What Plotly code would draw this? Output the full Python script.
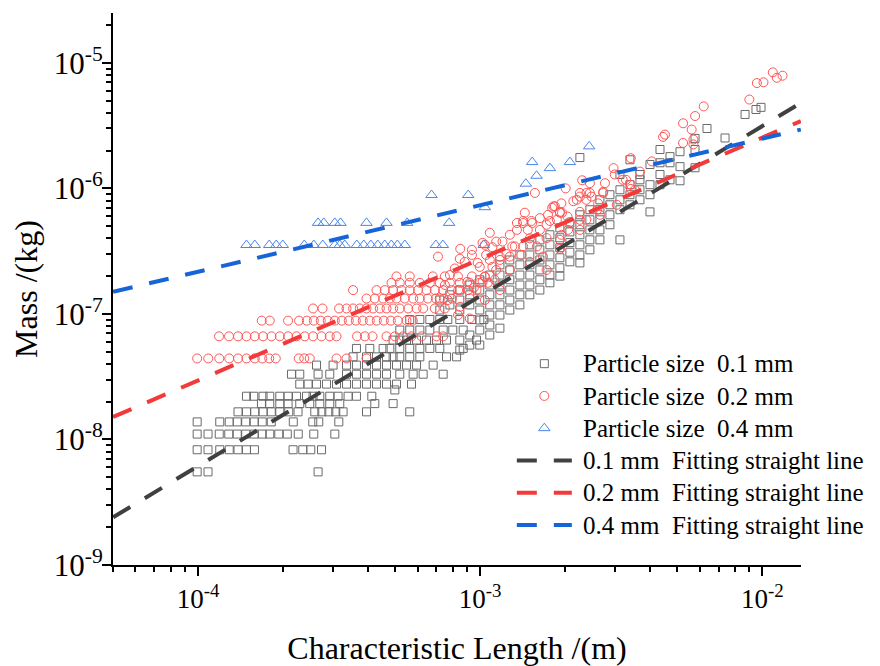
import plotly.graph_objects as go

# ---------------- Particle size 0.1 mm ----------------
# quantized mass levels (kg) with the characteristic lengths (m) found on each level
p01_lv_mass = [5.52e-9, 8.28e-9, 1.104e-8, 1.38e-8, 1.66e-8, 1.93e-8, 2.21e-8, 2.48e-8,
               2.76e-8, 3.31e-8, 3.91e-8, 4.55e-8, 5.31e-8, 6.19e-8, 7.44e-8, 9.02e-8]
p01_lv_len = [
    [0.993e-4, 1.085e-4, 2.664e-4],
    [0.993e-4, 1.085e-4, 1.194e-4, 1.29e-4, 1.386e-4, 1.485e-4, 1.585e-4, 2.172e-4, 2.351e-4, 2.51e-4, 2.74e-4],
    [0.993e-4, 1.085e-4, 1.189e-4, 1.285e-4, 1.377e-4, 1.476e-4, 1.582e-4, 1.689e-4, 1.796e-4, 1.933e-4,
     2.072e-4, 2.266e-4, 2.572e-4, 3.054e-4],
    [0.993e-4, 1.194e-4, 1.29e-4, 1.377e-4, 1.476e-4, 1.582e-4, 1.689e-4, 1.818e-4, 2.176e-4, 2.551e-4,
     2.679e-4, 3.155e-4],
    [1.386e-4, 1.485e-4, 1.589e-4, 1.7e-4, 1.818e-4, 1.949e-4, 2.097e-4, 2.262e-4, 2.593e-4, 2.746e-4,
     2.908e-4, 3.078e-4, 3.267e-4, 3.955e-4, 5.63e-4],
    [1.678e-4, 1.796e-4, 1.949e-4, 2.085e-4, 2.294e-4, 2.489e-4, 2.702e-4, 2.931e-4, 3.18e-4, 4.232e-4, 4.915e-4],
    [1.485e-4, 1.576e-4, 1.7e-4, 1.796e-4, 1.949e-4, 2.085e-4, 2.234e-4, 2.424e-4, 2.557e-4, 2.702e-4,
     2.931e-4, 3.136e-4, 3.403e-4, 3.644e-4, 4.13e-4],
    [4.984e-4],
    [2.294e-4, 2.455e-4, 2.63e-4, 2.853e-4, 3.097e-4, 3.36e-4, 3.644e-4, 3.955e-4, 4.292e-4, 4.657e-4,
     5.052e-4, 5.71e-4],
    [2.144e-4, 2.294e-4, 2.664e-4, 2.931e-4, 3.36e-4, 3.644e-4, 3.955e-4, 4.292e-4, 4.657e-4, 5.19e-4,
     5.788e-4, 6.28e-4, 7.395e-4],
    [2.63e-4, 3.011e-4, 3.36e-4, 3.644e-4, 3.955e-4, 4.292e-4, 4.657e-4, 5.052e-4, 5.483e-4, 5.951e-4, 6.815e-4],
    [3.545e-4, 3.955e-4, 4.292e-4, 4.657e-4, 4.915e-4, 5.19e-4, 5.63e-4, 6.112e-4, 7.6e-4, 8.25e-4],
    [3.644e-4, 4.063e-4, 4.53e-4, 4.785e-4, 5.19e-4, 5.63e-4, 6.112e-4, 6.632e-4, 7.195e-4, 8.708e-4],
    [4.915e-4, 5.19e-4, 5.483e-4, 5.951e-4, 6.456e-4, 7.005e-4, 7.6e-4, 9.71e-4],
    [5.19e-4, 5.63e-4, 6.112e-4, 6.632e-4, 7.395e-4, 8.0e-4, 8.708e-4],
    [5.63e-4, 6.112e-4, 6.632e-4, 7.195e-4, 7.68e-4, 8.47e-4, 9.35e-4, 1.031e-3],
]
# dense part of the cloud: length (m) and the masses (kg) read at that length
p01_col_len = [7.195e-4, 7.81e-4, 8.47e-4, 9.19e-4, 9.97e-4, 1.082e-3, 1.175e-3, 1.274e-3, 1.383e-3,
               1.50e-3, 1.628e-3, 1.767e-3, 1.917e-3, 2.08e-3, 2.257e-3, 2.449e-3, 2.658e-3, 2.884e-3,
               3.13e-3, 3.396e-3, 3.685e-3, 3.999e-3, 4.34e-3, 4.709e-3, 5.11e-3, 5.776e-3, 6.37e-3,
               7.38e-3, 8.69e-3, 9.5e-3, 9.9e-3]
p01_col_mass = [
    [1.29e-7, 1.074e-7],
    [1.42e-7, 1.18e-7],
    [1.55e-7, 1.29e-7, 1.074e-7, 6.19e-8, 5.15e-8],
    [1.70e-7, 1.42e-7, 1.18e-7, 6.79e-8, 5.65e-8],
    [1.87e-7, 1.55e-7, 1.29e-7, 1.074e-7, 8.94e-8, 7.44e-8, 5.65e-8],
    [2.04e-7, 1.70e-7, 1.42e-7, 1.18e-7, 9.8e-8, 8.16e-8, 6.79e-8],
    [2.46e-7, 2.04e-7, 1.70e-7, 1.42e-7, 1.18e-7, 9.8e-8, 7.7e-8],
    [2.69e-7, 2.24e-7, 1.87e-7, 1.55e-7, 1.29e-7, 1.074e-7],
    [2.95e-7, 2.46e-7, 2.04e-7, 1.70e-7, 1.42e-7, 1.18e-7],
    [3.55e-7, 2.95e-7, 2.46e-7, 2.04e-7, 1.70e-7, 1.42e-7],
    [3.89e-7, 3.24e-7, 2.69e-7, 2.24e-7, 1.87e-7, 1.55e-7],
    [4.27e-7, 3.55e-7, 2.95e-7, 2.46e-7, 2.04e-7, 1.77e-7],
    [4.85e-7, 4.04e-7, 3.37e-7, 2.80e-7, 2.33e-7, 2.0e-7],
    [5.3e-7, 4.5e-7, 3.7e-7, 3.1e-7, 2.6e-7],
    [1.76e-6, 6.16e-7, 5.13e-7, 4.27e-7, 3.55e-7, 2.95e-7, 2.55e-7],
    [6.76e-7, 5.62e-7, 4.67e-7, 3.89e-7, 3.24e-7],
    [8.11e-7, 6.76e-7, 5.62e-7, 4.67e-7, 3.89e-7],
    [8.9e-7, 7.4e-7, 6.16e-7, 5.13e-7],
    [1.29e-6, 9.75e-7, 8.11e-7, 6.76e-7, 3.89e-7],
    [1.69e-6, 1.07e-6, 8.9e-7, 7.4e-7],
    [1.29e-6, 1.17e-6, 9.75e-7, 8.11e-7],
    [1.55e-6, 1.07e-6, 8.9e-7, 6.5e-7],
    [2.04e-6, 1.6e-6, 1.29e-6, 1.07e-6],
    [1.79e-6, 1.6e-6, 1.17e-6],
    [1.96e-6, 1.49e-6, 1.15e-6],
    [2.50e-6, 2.04e-6, 1.46e-6],
    [3.0e-6],
    [2.52e-6],
    [3.88e-6],
    [4.25e-6],
    [4.42e-6],
]

# ---------------- Particle size 0.2 mm ----------------
p02_lv_mass = [4.42e-8, 6.63e-8, 8.84e-8, 1.105e-7, 1.326e-7, 1.547e-7, 1.77e-7, 1.99e-7]
p02_lv_len = [
    [0.993e-4, 1.087e-4, 1.189e-4, 1.29e-4, 1.386e-4, 1.485e-4, 1.589e-4, 1.689e-4, 1.788e-4, 1.886e-4,
     2.276e-4, 2.38e-4, 2.489e-4, 3.097e-4, 3.36e-4, 3.955e-4],
    [1.187e-4, 1.288e-4, 1.386e-4, 1.485e-4, 1.589e-4, 1.7e-4, 1.821e-4, 1.949e-4, 2.085e-4, 2.234e-4,
     2.389e-4, 2.557e-4, 2.74e-4, 2.931e-4, 3.097e-4, 3.663e-4, 3.901e-4, 4.154e-4, 4.657e-4, 4.984e-4,
     5.334e-4, 5.71e-4, 6.198e-4, 7.005e-4, 7.395e-4],
    [1.682e-4, 1.796e-4, 2.085e-4, 2.281e-4, 2.43e-4, 2.572e-4, 2.723e-4, 2.884e-4, 3.054e-4, 3.233e-4,
     3.423e-4, 3.625e-4, 3.837e-4, 4.063e-4, 4.301e-4, 4.555e-4, 4.824e-4, 5.107e-4, 5.483e-4, 5.772e-4],
    [2.557e-4, 2.762e-4, 3.162e-4, 3.36e-4, 3.545e-4, 3.744e-4, 3.955e-4, 4.174e-4, 4.409e-4, 4.657e-4,
     4.915e-4, 5.19e-4, 5.556e-4, 5.951e-4, 6.28e-4, 6.908e-4, 7.497e-4],
    [3.955e-4, 4.232e-4, 4.53e-4, 4.785e-4, 5.052e-4, 5.408e-4, 5.788e-4, 6.112e-4, 6.525e-4, 6.965e-4,
     7.436e-4, 7.937e-4],
    [3.545e-4, 4.292e-4, 4.592e-4, 4.915e-4, 5.265e-4, 5.63e-4, 6.029e-4, 6.456e-4, 6.908e-4, 7.395e-4,
     7.918e-4, 8.47e-4, 9.071e-4, 9.71e-4],
    [4.852e-4, 5.19e-4, 5.63e-4, 6.112e-4, 6.632e-4, 7.195e-4, 7.81e-4, 8.47e-4, 9.19e-4, 9.97e-4, 1.065e-3],
    [5.052e-4, 5.63e-4, 6.795e-4, 7.497e-4, 8.34e-4, 9.35e-4, 1.039e-3],
]
p02_pts_len = [7.09e-4, 7.195e-4, 8.36e-4, 9.0e-4, 9.8e-4, 8.5e-4, 9.19e-4, 8.5e-4, 9.5e-4, 1.039e-3,
               1.105e-3, 1.175e-3, 1.082e-3, 1.02e-3, 1.14e-3, 1.274e-3, 1.35e-3, 1.42e-3, 1.475e-3, 1.328e-3,
               1.082e-3, 1.24e-3, 1.4e-3, 1.59e-3, 1.72e-3, 1.72e-3, 1.87e-3, 1.917e-3, 1.8e-3, 2.14e-3,
               2.257e-3, 2.38e-3, 2.48e-3, 2.73e-3, 2.04e-3, 2.257e-3, 2.38e-3, 2.6e-3, 1.67e-3, 1.917e-3,
               1.72e-3, 1.917e-3, 2.05e-3, 2.257e-3, 1.42e-3, 1.52e-3, 1.35e-3, 1.5e-3, 1.3e-3, 1.2e-3,
               1.105e-3, 1.05e-3, 1.175e-3, 1.274e-3, 9.97e-4, 1.02e-3, 1.14e-3, 1.42e-3, 1.628e-3, 1.767e-3,
               1.84e-3, 1.74e-3, 1.917e-3, 1.94e-3, 2.2e-3, 2.257e-3, 2.449e-3, 2.38e-3, 2.62e-3, 2.73e-3,
               1.95e-3, 2.08e-3, 1.94e-3, 2.257e-3, 2.97e-3, 3.42e-3, 3.2e-3, 3.42e-3, 3.537e-3, 2.3e-3,
               1.563e-3, 2.01e-3, 4.06e-3, 4.45e-3, 4.52e-3, 5.24e-3, 5.62e-3, 5.78e-3, 6.2e-3, 5.24e-3,
               5.7e-3, 5.7e-3, 3.29e-3, 3.42e-3, 9.0e-3, 9.57e-3, 1.01e-2, 1.09e-2, 1.126e-2, 1.18e-2,
               7.5e-4, 7.81e-4, 8.13e-4, 8.82e-4, 9.35e-4, 7.68e-4, 8.35e-4, 9.19e-4, 1.039e-3, 1.175e-3,
               1.127e-3, 1.274e-3, 1.5e-3, 1.628e-3, 1.44e-3, 2.449e-3, 2.77e-3, 3.0e-3, 2.658e-3, 3.05e-3,
               3.685e-3, 9.35e-4, 8.47e-4, 1.039e-3, 1.82e-3, 1.53e-3]
p02_pts_mass = [2.86e-7, 1.33e-7, 1.55e-7, 1.8e-7, 2.55e-7, 3.3e-7, 1.33e-7, 1.14e-7, 1.62e-7, 1.97e-7,
                2.37e-7, 2.86e-7, 4.43e-7, 3.68e-7, 3.77e-7, 4.27e-7, 5.3e-7, 5.3e-7, 4.67e-7, 3.45e-7,
                2.69e-7, 3.0e-7, 2.95e-7, 3.45e-7, 4.02e-7, 5.13e-7, 5.62e-7, 6.5e-7, 7.0e-7, 7.9e-7,
                8.6e-7, 9.2e-7, 8.6e-7, 9.2e-7, 5.96e-7, 5.62e-7, 5.62e-7, 6.76e-7, 2.86e-7, 3.3e-7,
                2.24e-7, 3.89e-7, 4.67e-7, 4.67e-7, 5.5e-7, 5.5e-7, 4.67e-7, 4.0e-7, 3.45e-7, 3.77e-7,
                3.4e-7, 2.95e-7, 2.69e-7, 2.86e-7, 2.37e-7, 1.8e-7, 2.24e-7, 3.45e-7, 4.67e-7, 5.5e-7,
                7.2e-7, 6.16e-7, 6.4e-7, 7.6e-7, 8.11e-7, 9.2e-7, 9.2e-7, 8.11e-7, 7.6e-7, 9.4e-7,
                6.4e-7, 5.4e-7, 4.27e-7, 6.5e-7, 1.45e-6, 1.74e-6, 1.17e-6, 1.07e-6, 9.75e-7, 1.16e-6,
                9.2e-7, 1.0e-6, 1.64e-6, 2.57e-6, 2.68e-6, 3.3e-6, 2.94e-6, 3.77e-6, 4.5e-6, 2.3e-6,
                2.45e-6, 2.24e-6, 1.17e-6, 9.9e-7, 5.1e-6, 6.9e-6, 7.0e-6, 8.4e-6, 7.6e-6, 7.9e-6,
                1.7e-7, 2.04e-7, 2.3e-7, 2.6e-7, 2.95e-7, 1.29e-7, 9.8e-8, 9.2e-8, 1.29e-7, 1.55e-7,
                1.87e-7, 2.24e-7, 2.6e-7, 5.8e-7, 6.4e-7, 1.1e-6, 1.1e-6, 1.29e-6, 6.16e-7, 7.4e-7,
                1.36e-6, 3.24e-7, 2.75e-7, 3.55e-7, 7.2e-7, 5.3e-7]

# ---------------- Particle size 0.4 mm ----------------
p04_lv_mass = [3.54e-7, 5.31e-7, 7.08e-7, 8.85e-7]
p04_lv_len = [
    [1.485e-4, 1.589e-4, 1.788e-4, 1.894e-4, 1.997e-4, 2.38e-4, 2.572e-4, 2.768e-4, 3.054e-4, 3.18e-4,
     3.313e-4, 3.654e-4, 3.869e-4, 4.097e-4, 4.337e-4, 4.592e-4, 4.843e-4, 5.087e-4, 5.408e-4, 6.965e-4,
     7.375e-4, 1.03e-3],
    [2.664e-4, 2.791e-4, 3.054e-4, 3.199e-4, 3.955e-4, 4.657e-4, 5.51e-4, 7.765e-4],
    [1.039e-3],
    [6.725e-4, 9.071e-4],
]
p04_pts_len = [1.452e-3, 1.585e-3, 1.529e-3, 1.767e-3, 2.08e-3, 2.435e-3]
p04_pts_mass = [1.09e-6, 1.26e-6, 1.62e-6, 1.45e-6, 1.62e-6, 2.16e-6]

# ---------------- Fitting straight lines (end points) ----------------
fit_len = [5.0e-5, 1.37e-2]
fit01_mass = [2.40e-9, 4.80e-6]
fit02_mass = [1.51e-8, 3.44e-6]
fit04_mass = [1.50e-7, 2.94e-6]


def flatten(lv_y, lv_x, extra_x, extra_y):
    xs, ys = [], []
    for yv, xl in zip(lv_y, lv_x):
        for xv in xl:
            xs.append(xv)
            ys.append(yv)
    xs += list(extra_x)
    ys += list(extra_y)
    return xs, ys


c01x, c01y = [], []
for xv, yl in zip(p01_col_len, p01_col_mass):
    for yv in yl:
        c01x.append(xv)
        c01y.append(yv)

x01, y01 = flatten(p01_lv_mass, p01_lv_len, c01x, c01y)
x02, y02 = flatten(p02_lv_mass, p02_lv_len, p02_pts_len, p02_pts_mass)
x04, y04 = flatten(p04_lv_mass, p04_lv_len, p04_pts_len, p04_pts_mass)

SP = "\u00a0 "
FONT = "Liberation Serif"


def leg(text):
    return '<span style="font-size:25px">\u00a0' + text + '</span>'


fig = go.Figure()
fig.add_trace(go.Scatter(x=x01, y=y01, mode="markers", name=leg("Particle size" + SP + "0.1 mm"),
                         marker=dict(symbol="square-open", size=8, color="#6a6a6a",
                                     line=dict(width=1, color="#6a6a6a"))))
fig.add_trace(go.Scatter(x=x02, y=y02, mode="markers", name=leg("Particle size" + SP + "0.2 mm"),
                         marker=dict(symbol="circle-open", size=9, color="#ff5555",
                                     line=dict(width=1, color="#ff5555"))))
fig.add_trace(go.Scatter(x=x04, y=y04, mode="markers", name=leg("Particle size" + SP + "0.4 mm"),
                         marker=dict(symbol="triangle-up-open", size=10, color="#4a86e8",
                                     line=dict(width=1, color="#4a86e8"))))
DASH = "20px,17px"
fig.add_trace(go.Scatter(x=fit_len, y=fit01_mass, mode="lines", name=leg("0.1 mm" + SP + "Fitting straight line"),
                         line=dict(color="#404040", width=4, dash=DASH)))
fig.add_trace(go.Scatter(x=fit_len, y=fit02_mass, mode="lines", name=leg("0.2 mm" + SP + "Fitting straight line"),
                         line=dict(color="#f23a3a", width=4, dash=DASH)))
fig.add_trace(go.Scatter(x=fit_len, y=fit04_mass, mode="lines", name=leg("0.4 mm" + SP + "Fitting straight line"),
                         line=dict(color="#1565d8", width=4, dash=DASH)))

x_minor = [k * 10.0 ** e for e in (-5, -4, -3, -2) for k in range(2, 10)]
y_minor = [k * 10.0 ** e for e in (-9, -8, -7, -6, -5) for k in range(2, 10)]

axis_common = dict(
    type="log", showgrid=False, zeroline=False, showline=True, linecolor="black", linewidth=2,
    ticks="outside", ticklen=9, tickwidth=2, tickcolor="black", automargin=False,
    mirror=False,
)

fig.update_xaxes(
    **axis_common,
    range=[-4.3014, -1.8627],
    tickfont=dict(family=FONT, size=27, color="black"),
    tickmode="array", tickvals=[1e-4, 1e-3, 1e-2],
    ticktext=["10<sup>-4</sup>", "10<sup>-3</sup>", "10<sup>-2</sup>"],
    minor=dict(tickmode="array", tickvals=x_minor, ticks="outside", ticklen=5, tickwidth=1.5, tickcolor="black"),
    title=dict(text="Characteristic Length /(m)", font=dict(family=FONT, size=32, color="black"), standoff=23),
)
fig.update_yaxes(
    **axis_common,
    range=[-9, -4.603],
    tickfont=dict(family=FONT, size=31, color="black"),
    ticklabelstandoff=-7,
    tickmode="array", tickvals=[1e-9, 1e-8, 1e-7, 1e-6, 1e-5],
    ticktext=["10<sup>-9</sup>", "10<sup>-8</sup>", "10<sup>-7</sup>", "10<sup>-6</sup>", "10<sup>-5</sup>"],
    minor=dict(tickmode="array", tickvals=y_minor, ticks="outside", ticklen=5, tickwidth=1.5, tickcolor="black"),
    title=dict(text="Mass /(kg)", font=dict(family=FONT, size=32, color="black"), standoff=10),
)

# the page adds an 8 px body margin; margins are set so the plot area lands where the reference has it,
# and the figure is a little larger than the window so that the legend never forces the margins to grow
fig.update_layout(
    width=900, height=680,
    margin=dict(l=105, r=107, t=5, b=123),
    paper_bgcolor="white", plot_bgcolor="white",
    font=dict(family=FONT, color="black"),
    showlegend=True,
    legend=dict(x=0.5797, y=0.403, xanchor="left", yanchor="top", bgcolor="rgba(0,0,0,0)",
                font=dict(family=FONT, size=22.5, color="black"), itemwidth=55,
                tracegroupgap=0),
)

fig.write_html("out.html")
